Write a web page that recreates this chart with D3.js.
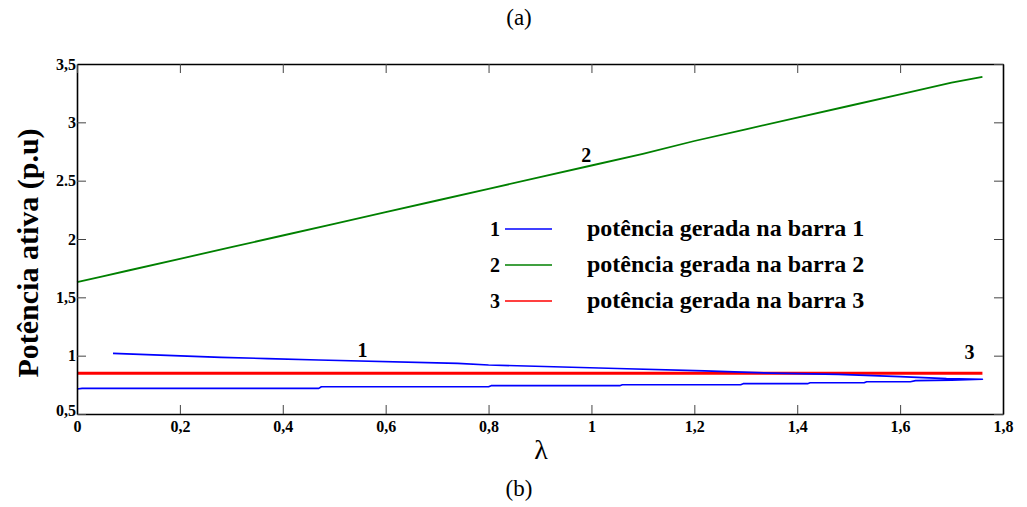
<!DOCTYPE html>
<html>
<head>
<meta charset="utf-8">
<script src="https://cdn.jsdelivr.net/npm/d3@7"></script>
<style>
  body { margin: 0; background: #fff; }
  svg text { font-family: "Liberation Serif", "Times New Roman", serif; }
</style>
</head>
<body>
<svg width="1027" height="507"></svg>
<script>
// data
var xTicks = [0, 0.2, 0.4, 0.6, 0.8, 1, 1.2, 1.4, 1.6, 1.8];
var xTickLabels = ["0", "0,2", "0,4", "0,6", "0,8", "1", "1,2", "1,4", "1,6", "1,8"];
var yTicks = [0.5, 1, 1.5, 2, 2.5, 3, 3.5];
var yTickLabels = ["0,5", "1", "1,5", "2", "2.5", "3", "3,5"];

// bus 1: lower branch then back along the upper branch
var lambda1 = [0, 0.01, 0.47, 0.475, 0.80, 0.805, 1.055, 1.06, 1.29, 1.295, 1.42, 1.425, 1.53, 1.535, 1.62, 1.63, 1.70, 1.76,
               1.69, 1.60, 1.48, 1.35, 1.22, 1.05, 0.80, 0.74, 0.47, 0.37, 0.28, 0.07];
var power1 = [0.714, 0.72, 0.72, 0.734, 0.734, 0.743, 0.743, 0.751, 0.751, 0.76, 0.76, 0.768, 0.768, 0.777, 0.777, 0.786, 0.79, 0.798,
              0.803, 0.82, 0.84, 0.85, 0.87, 0.89, 0.92, 0.934, 0.963, 0.975, 0.985, 1.02];
// bus 2
var lambda2 = [0, 0.05, 0.1, 0.2, 0.3, 0.4, 0.5, 0.6, 0.7, 0.8, 0.9, 1.0, 1.1, 1.2, 1.3, 1.4, 1.5, 1.6, 1.7, 1.76];
var power2 = [1.63, 1.68, 1.73, 1.83, 1.93, 2.03, 2.13, 2.23, 2.33, 2.43, 2.53, 2.63, 2.73, 2.84, 2.94, 3.04, 3.14, 3.24, 3.34, 3.39];
// bus 3
var lambda3 = [0, 1.76];
var power3 = [0.85, 0.85];

var seriesNames = ["potência gerada na barra 1", "potência gerada na barra 2", "potência gerada na barra 3"];
var seriesColors = ["#0000ff", "#008000", "#ff0000"];

var svg = d3.select("svg");
var margin = {left: 77, right: 24, top: 64, bottom: 93};
var width = 1027 - margin.left - margin.right,
    height = 507 - margin.top - margin.bottom;

var xScale = d3.scaleLinear().domain([0, 1.8]).range([0, width]);
var yScale = d3.scaleLinear().domain([0.5, 3.5]).range([height, 0]);

var g = svg.append("g")
    .attr("transform", "translate(" + margin.left + "," + margin.top + ")");

// lines
var line = d3.line()
    .x(function(d) { return xScale(d[0]); })
    .y(function(d) { return yScale(d[1]); });

var series = [
  {l: lambda3, p: power3, c: seriesColors[2], w: 3},
  {l: lambda2, p: power2, c: seriesColors[1], w: 1.8},
  {l: lambda1, p: power1, c: seriesColors[0], w: 1.6}
];
series.forEach(function(s) {
  g.append("path")
    .datum(d3.zip(s.l, s.p))
    .attr("fill", "none")
    .attr("stroke", s.c)
    .attr("stroke-width", s.w)
    .attr("stroke-linejoin", "round")
    .attr("d", line);
});

// axes (ticks inward on all sides)
function styleAxis(sel) {
  sel.select(".domain").attr("stroke", "#000").attr("stroke-width", 1.6);
  sel.selectAll(".tick line").attr("stroke", "#444").attr("stroke-width", 1);
  sel.selectAll(".tick text")
    .attr("font-weight", "bold")
    .attr("font-size", 16)
    .attr("fill", "#000");
}

var xAxis = g.append("g")
  .attr("transform", "translate(0," + height + ")")
  .call(d3.axisBottom(xScale).tickValues(xTicks).tickSize(-9).tickSizeOuter(0).tickPadding(7)
    .tickFormat(function(d, i) { return xTickLabels[i]; }))
  .call(styleAxis);

var yAxis = g.append("g")
  .call(d3.axisLeft(yScale).tickValues(yTicks).tickSize(-9).tickSizeOuter(0).tickPadding(1)
    .tickFormat(function(d, i) { return yTickLabels[i]; }))
  .call(styleAxis);

// lift the lowest y label a little so it clears the x "0"
yAxis.selectAll(".tick text").filter(function(d) { return d === 0.5; }).attr("dy", "0.1em");

g.append("g")
  .call(d3.axisTop(xScale).tickValues(xTicks).tickSize(-9).tickSizeOuter(0).tickFormat(""))
  .call(styleAxis);

g.append("g")
  .attr("transform", "translate(" + width + ",0)")
  .call(d3.axisRight(yScale).tickValues(yTicks).tickSize(-9).tickSizeOuter(0).tickFormat(""))
  .call(styleAxis);

// axis titles
svg.append("text")
  .attr("transform", "translate(38," + 253 + ") rotate(-90)")
  .attr("text-anchor", "middle")
  .attr("font-weight", "bold")
  .attr("font-size", 30)
  .text("Potência ativa (p.u)");

svg.append("text")
  .attr("x", 541).attr("y", 459)
  .attr("text-anchor", "middle")
  .attr("font-size", 28)
  .text("λ");

svg.append("text")
  .attr("x", 519).attr("y", 25)
  .attr("text-anchor", "middle")
  .attr("font-size", 23)
  .text("(a)");

svg.append("text")
  .attr("x", 519).attr("y", 496)
  .attr("text-anchor", "middle")
  .attr("font-size", 23)
  .text("(b)");

// curve labels
var curveLabels = [["1", 0.555, 0.989], ["2", 0.99, 2.66], ["3", 1.735, 0.972]];
curveLabels.forEach(function(c) {
  g.append("text")
    .attr("x", xScale(c[1])).attr("y", yScale(c[2]))
    .attr("text-anchor", "middle")
    .attr("font-weight", "bold")
    .attr("font-size", 20)
    .text(c[0]);
});

// legend
var legend = svg.append("g").attr("transform", "translate(0,229)");
seriesNames.forEach(function(name, i) {
  var row = legend.append("g").attr("transform", "translate(0," + (i * 36) + ")");
  row.append("text")
    .attr("x", 500).attr("y", 7)
    .attr("text-anchor", "end")
    .attr("font-weight", "bold")
    .attr("font-size", 20)
    .text(String(i + 1));
  row.append("line")
    .attr("x1", 505).attr("x2", 552)
    .attr("y1", 0).attr("y2", 0)
    .attr("stroke", seriesColors[i])
    .attr("stroke-width", 1.6);
  row.append("text")
    .attr("x", 587).attr("y", 7)
    .attr("font-weight", "bold")
    .attr("font-size", 24)
    .text(name);
});
</script>
</body>
</html>
